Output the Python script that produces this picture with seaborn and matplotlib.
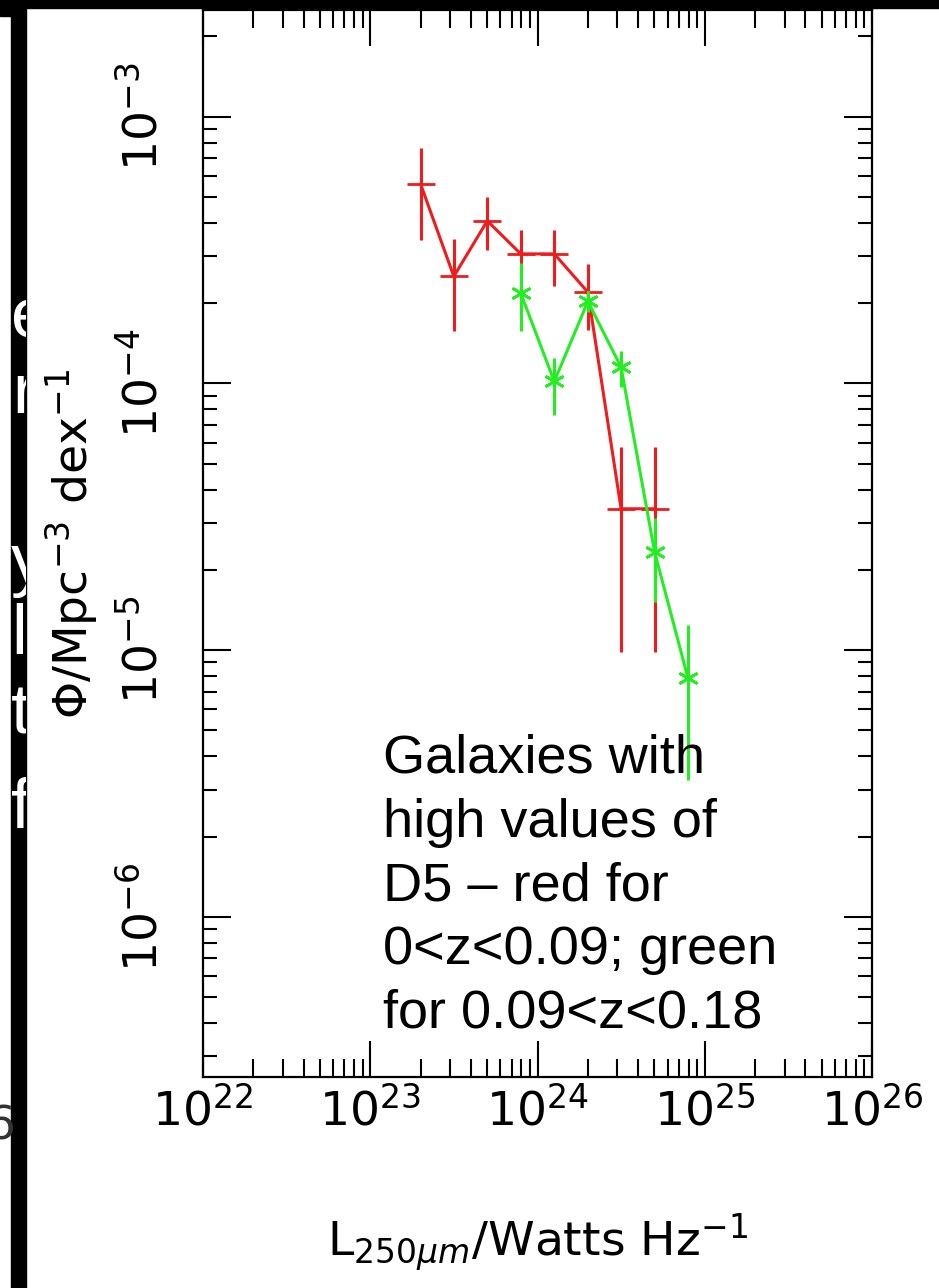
import numpy as np
import pandas as pd
import matplotlib
matplotlib.use('Agg')
import matplotlib.pyplot as plt
import seaborn as sns
from matplotlib.patches import Rectangle
from matplotlib.transforms import Bbox, TransformedBbox

# luminosity bins (W/Hz)
red_L = [2.0e23, 3.16e23, 5.01e23, 7.94e23, 1.26e24, 2.0e24, 3.16e24, 5.01e24]
red_phi = [5.59e-4, 2.52e-4, 4.07e-4, 3.06e-4, 3.06e-4, 2.20e-4, 3.39e-5, 3.39e-5]
red_lo = [3.46e-4, 1.57e-4, 3.17e-4, 2.67e-4, 2.32e-4, 1.59e-4, 9.88e-6, 9.88e-6]
red_hi = [7.65e-4, 3.49e-4, 5.00e-4, 3.77e-4, 3.77e-4, 2.81e-4, 5.80e-5, 5.80e-5]

green_L = [7.94e23, 1.26e24, 2.0e24, 3.16e24, 5.01e24, 7.94e24]
green_phi = [2.18e-4, 1.017e-4, 2.03e-4, 1.151e-4, 2.34e-5, 7.85e-6]
green_lo = [1.57e-4, 7.63e-5, 1.85e-4, 9.74e-5, 1.52e-5, 3.27e-6]
green_hi = [2.84e-4, 1.25e-4, 2.22e-4, 1.32e-4, 3.13e-5, 1.245e-5]

note_lines = ['Galaxies with', 'high values of', 'D5 \u2013 red for',
              '0<z<0.09; green', 'for 0.09<z<0.18']

RED = '#ee1c1c'
GREEN = '#22ee22'

sns.set_style('white')
plt.rcParams['font.family'] = ['DejaVu Sans']
plt.rcParams['mathtext.fontset'] = 'dejavusans'
plt.rcParams['text.color'] = 'black'
plt.rcParams['axes.labelcolor'] = 'black'

W, H = 939, 1288
fig = plt.figure(figsize=(W / 100, H / 100), dpi=100, facecolor='white')


def fx(px):
    return px / W


def fy(py):
    return 1 - py / H


# slide leftovers behind the pasted plot
fig.patches.append(Rectangle((0, fy(8)), 1, 8 / H, transform=fig.transFigure,
                             color='black', zorder=0))
fig.patches.append(Rectangle((0, fy(16)), fx(12), 8 / H, transform=fig.transFigure,
                             color='black', zorder=0))
fig.patches.append(Rectangle((fx(11), 0), fx(15), fy(8), transform=fig.transFigure,
                             color='black', zorder=0))
clip = TransformedBbox(Bbox([[fx(11), 0], [fx(26), fy(8)]]), fig.transFigure)
for ch, px, py in [('e', 11, 337), ('r', 12, 413), ('y', 11, 583), ('la', 11, 653),
                   ('t', 11, 733), ('fo', 11, 827)]:
    t = fig.text(fx(px), fy(py), ch, color='white', fontsize=51,
                 family='Liberation Sans', va='baseline', ha='left')
    t.set_clip_box(clip)
    t.set_clip_on(True)
fig.text(fx(-14), fy(1140), '6', color='#333333', fontsize=34,
         family='DejaVu Sans', va='baseline', ha='left')

ax = fig.add_axes([fx(203), fy(1077), 669 / W, 1067 / H])
ax.set(xscale='log', yscale='log')

red_df = pd.DataFrame({'L': red_L, 'phi': red_phi})
green_df = pd.DataFrame({'L': green_L, 'phi': green_phi})

ax.vlines(red_L, red_lo, red_hi, color=RED, lw=2.2, zorder=2)
sns.lineplot(data=red_df, x='L', y='phi', sort=False, color=RED, lw=2.2,
             marker='+', markersize=20, markeredgewidth=2.0, markeredgecolor=RED,
             ax=ax, zorder=3)
ax.vlines(green_L, green_lo, green_hi, color=GREEN, lw=2.2, zorder=4)
sns.lineplot(data=green_df, x='L', y='phi', sort=False, color=GREEN, lw=2.2,
             marker=(6, 2, 0), markersize=15, markeredgewidth=2.0,
             markeredgecolor=GREEN, ax=ax, zorder=5)

ax.set_xlim(1e22, 1e26)
ax.set_ylim(10 ** -6.6, 10 ** -2.6)

for s in ax.spines.values():
    s.set_linewidth(1.6)
    s.set_color('black')

ax.xaxis.set_major_locator(matplotlib.ticker.LogLocator(base=10, numticks=10))
ax.xaxis.set_minor_locator(matplotlib.ticker.LogLocator(base=10, subs=np.arange(2, 10), numticks=20))
ax.yaxis.set_major_locator(matplotlib.ticker.LogLocator(base=10, numticks=10))
ax.yaxis.set_minor_locator(matplotlib.ticker.LogLocator(base=10, subs=np.arange(2, 10), numticks=20))

ax.tick_params(which='both', direction='in', top=True, right=True, bottom=True, left=True,
               width=1.5, color='black', labelsize=34, labelcolor='black')
ax.tick_params(axis='x', which='major', length=26, pad=8)
ax.tick_params(axis='x', which='minor', length=13)
ax.tick_params(axis='y', which='major', length=20, pad=26, labelrotation=90)
ax.tick_params(axis='y', which='minor', length=10)
for lbl in ax.get_yticklabels():
    lbl.set_va('center')

ax.set_xlabel(r'L$_{250\mu m}$/Watts Hz$^{-1}$', fontsize=34, labelpad=55)
ax.set_ylabel(r'$\Phi$/Mpc$^{-3}$ dex$^{-1}$', fontsize=34, labelpad=14)
ax.set_xticklabels([], minor=True)
ax.set_yticklabels([], minor=True)

for i, line in enumerate(note_lines):
    fig.text(fx(383), fy(773 + 63.7 * i), line, fontsize=39,
             family='Liberation Sans', color='black', va='baseline', ha='left')

fig.savefig('out.png', dpi=100, facecolor='white')
